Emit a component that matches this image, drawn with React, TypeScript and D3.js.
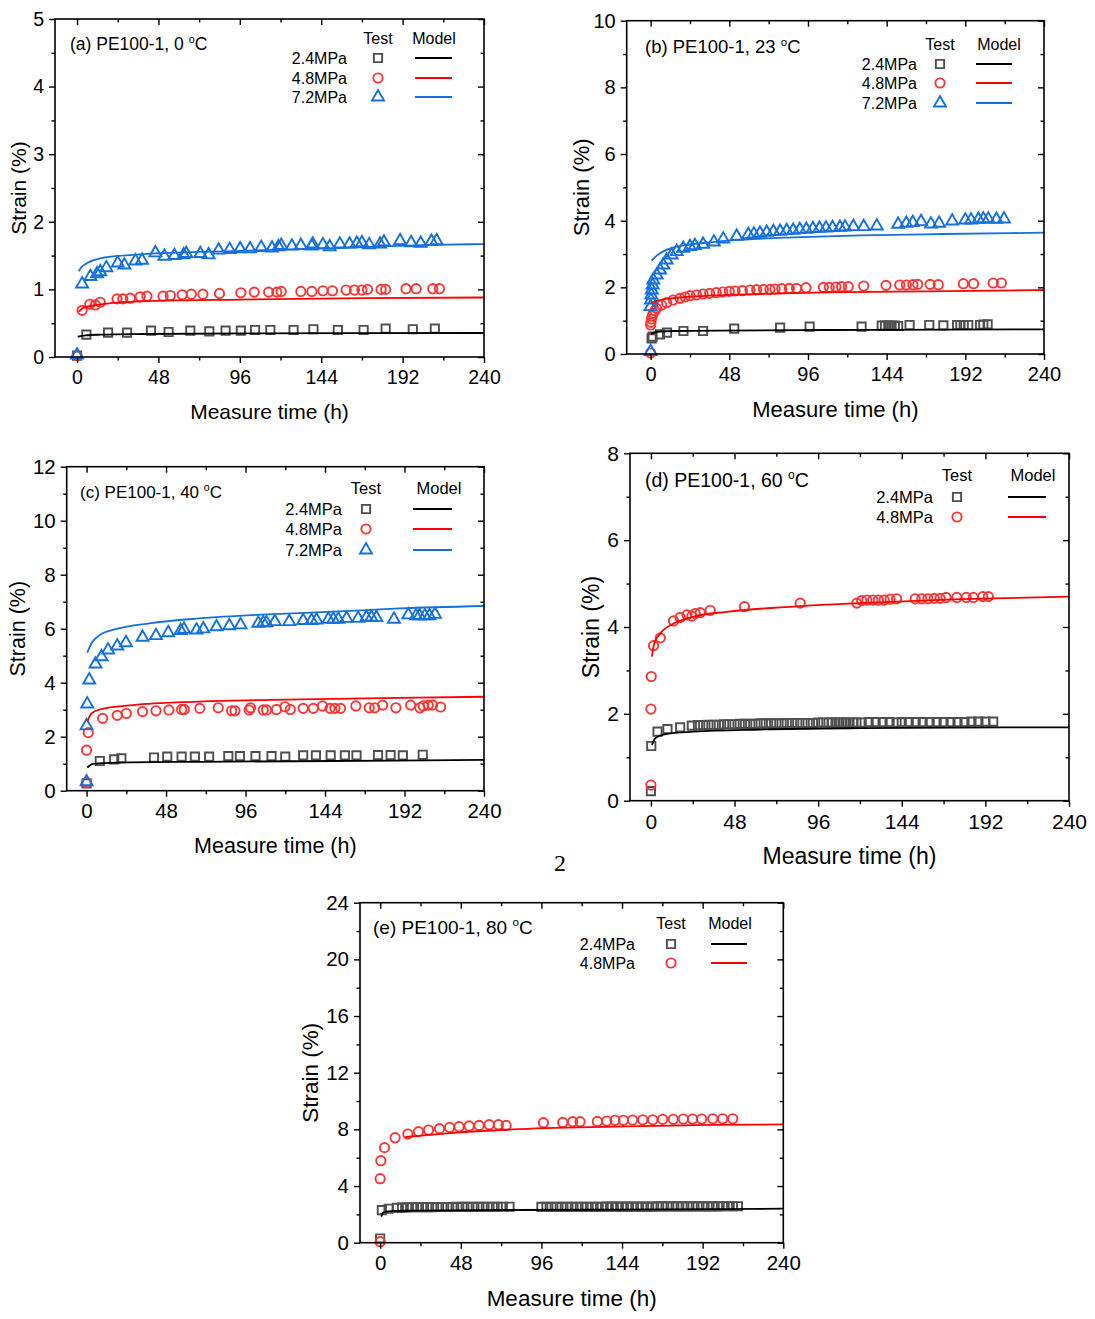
import { useEffect, useRef } from "react";
import * as d3 from "d3";

type Pt = [number, number];

// ---------- tick labels ----------
const xTicks = [0, 48, 96, 144, 192, 240];
const xMinor = [24, 72, 120, 168, 216];
const aYTicks = [0, 1, 2, 3, 4, 5];
const aYMinor = [0.5, 1.5, 2.5, 3.5, 4.5];
const bYTicks = [0, 2, 4, 6, 8, 10];
const bYMinor = [1, 3, 5, 7, 9];
const cYTicks = [0, 2, 4, 6, 8, 10, 12];
const cYMinor = [1, 3, 5, 7, 9, 11];
const dYTicks = [0, 2, 4, 6, 8];
const dYMinor = [1, 3, 5, 7];
const eYTicks = [0, 4, 8, 12, 16, 20, 24];
const eYMinor = [2, 6, 10, 14, 18, 22];

const stressLabels = ["2.4MPa", "4.8MPa", "7.2MPa"];

// ---------- (a) 0 °C ----------
const a24: Pt[] = [[0,0.02],[5.5,0.33],[18.3,0.36],[29.5,0.36],[43.6,0.39],[54,0.37],[66.8,0.39],[78,0.38],[87.6,0.39],[96.6,0.39],[105,0.4],[114,0.4],[127.7,0.4],[139.4,0.41],[153.8,0.4],[169,0.4],[182,0.42],[198,0.41],[211,0.42]];
const a48: Pt[] = [[0,0.02],[3,0.69],[7.5,0.78],[10.8,0.77],[13.7,0.81],[23.6,0.86],[27,0.86],[31.4,0.87],[37.3,0.89],[41.2,0.9],[50.7,0.9],[55,0.91],[62,0.92],[67.4,0.93],[74.2,0.93],[84,0.94],[96.6,0.95],[104.5,0.96],[113,0.96],[117.8,0.96],[120.4,0.97],[132,0.97],[138.5,0.97],[145,0.98],[150.6,0.98],[158.7,0.99],[163.6,0.99],[168,0.99],[171.3,1.0],[179.3,1.0],[182,1.0],[194,1.01],[200,1.01],[209.8,1.01],[213.7,1.01]];
const a72: Pt[] = [[0,0.03],[3,1.08],[7.9,1.19],[11.8,1.23],[13.7,1.26],[17.3,1.32],[24,1.39],[27.9,1.36],[34.4,1.42],[38.3,1.43],[46.2,1.54],[51.5,1.49],[57.4,1.5],[62.9,1.51],[64.4,1.53],[72.7,1.53],[77.6,1.51],[83.5,1.58],[90,1.59],[96.2,1.6],[102,1.6],[108.6,1.62],[115,1.61],[118.8,1.63],[120.4,1.65],[126.7,1.64],[132,1.65],[138.5,1.64],[139,1.67],[145,1.66],[149,1.63],[155,1.67],[160.7,1.67],[165,1.68],[168,1.69],[172.3,1.66],[178.7,1.67],[181,1.7],[190.5,1.72],[197,1.69],[202.7,1.68],[209,1.71],[212,1.72]];
const aM24: Pt[] = [[0.4,0.3],[5,0.32],[14,0.33],[40,0.34],[100,0.35],[240,0.355]];
const aM48: Pt[] = [[1,0.67],[4,0.73],[11.8,0.77],[33,0.82],[96,0.85],[170,0.87],[240,0.88]];
const aM72: Pt[] = [[1,1.27],[3,1.34],[6,1.39],[13.7,1.46],[33,1.51],[96,1.57],[151,1.61],[210,1.66],[240,1.67]];

// ---------- (b) 23 °C ----------
const b24: Pt[] = [[0.6,0.47],[1.2,0.52],[5.7,0.59],[10,0.64],[20,0.69],[32,0.69],[51,0.76],[79,0.79],[97,0.82],[128.7,0.82],[141,0.85],[143,0.85],[145,0.85],[147,0.85],[149,0.85],[151,0.84],[158,0.87],[170,0.87],[178.6,0.86],[187,0.87],[189,0.87],[191,0.87],[193.8,0.87],[201,0.87],[203,0.88],[205.6,0.89]];
const b48: Pt[] = [[0,0.03],[0,0.87],[0.2,0.95],[0.5,1.05],[1,1.14],[1.6,1.22],[2.6,1.3],[3.7,1.37],[6.7,1.47],[9.8,1.54],[13.8,1.62],[17.9,1.67],[21,1.71],[24,1.75],[28,1.77],[32,1.8],[36,1.82],[40,1.84],[44,1.86],[48,1.88],[51.5,1.89],[56,1.9],[60.6,1.92],[64.7,1.93],[68.8,1.94],[72.8,1.94],[75.9,1.95],[80,1.96],[84.6,1.97],[89,1.97],[94.8,1.99],[105.4,2.0],[109,2.0],[113,2.01],[116.5,2.02],[120.6,2.02],[130,2.04],[143.6,2.06],[152,2.07],[156,2.07],[160,2.08],[163,2.09],[170.5,2.09],[175.5,2.08],[190.8,2.11],[197,2.11],[209,2.13],[214,2.13]];
const b72: Pt[] = [[0,0.07],[0,1.42],[0.2,1.62],[0.4,1.77],[0.7,1.92],[1.2,2.07],[1.6,2.22],[3.7,2.37],[5.7,2.52],[7.7,2.67],[9.8,2.82],[12.8,2.97],[15.9,3.07],[19.9,3.17],[24,3.22],[27,3.25],[32,3.29],[38.6,3.36],[44.3,3.45],[52.5,3.53],[59.6,3.58],[63,3.6],[66.7,3.62],[70.8,3.65],[74.9,3.67],[79,3.68],[83,3.7],[87,3.71],[91,3.73],[95,3.74],[99,3.76],[103,3.77],[107,3.78],[111,3.79],[115.5,3.8],[118.6,3.81],[123.7,3.82],[130,3.82],[138,3.84],[151,3.89],[156,3.92],[160,3.94],[165,3.97],[171,3.9],[176,3.92],[184,3.99],[192,4.02],[195.5,4.02],[200,4.04],[203,4.05],[206,4.05],[211,4.04],[215.6,4.05]];
const bM24: Pt[] = [[0.3,0.6],[2,0.64],[5.7,0.67],[15,0.69],[40,0.7],[107,0.72],[180,0.73],[240,0.74]];
const bM48: Pt[] = [[0.6,1.52],[3,1.58],[5.7,1.62],[16,1.69],[36,1.75],[67,1.8],[107,1.85],[168,1.88],[240,1.92]];
const bM72: Pt[] = [[0.6,2.8],[3.7,2.95],[7.7,3.08],[14,3.2],[20,3.26],[32,3.33],[56,3.43],[87,3.5],[128,3.56],[178.6,3.6],[240,3.64]];

// ---------- (c) 40 °C ----------
const c24: Pt[] = [[0,0.27],[8,1.1],[16.7,1.16],[21,1.2],[40.7,1.23],[48.7,1.26],[57.4,1.26],[65.4,1.26],[74,1.26],[85.6,1.28],[92.6,1.28],[102,1.28],[111.7,1.28],[120,1.26],[130.8,1.31],[138.5,1.31],[147.4,1.31],[156,1.31],[163,1.31],[176,1.32],[183.6,1.32],[191,1.31],[203,1.33]];
const c48: Pt[] = [[0,0.3],[0,1.5],[1,2.15],[9.7,2.68],[18.5,2.79],[24,2.86],[33.8,2.93],[41.9,2.96],[49.7,2.99],[57.4,3.01],[59,3.01],[68.4,3.05],[79.5,3.07],[87.6,2.96],[89.6,2.96],[98.2,2.99],[99,3.07],[106.7,2.99],[108.7,2.99],[114.7,3.01],[119.8,3.11],[123,3.01],[130.8,3.05],[136.9,3.05],[142.5,3.14],[147,3.05],[150,3.05],[153.4,3.05],[162.6,3.14],[170.7,3.07],[174,3.07],[178.8,3.17],[186.8,3.07],[195.7,3.17],[201.3,3.07],[203.3,3.14],[206.3,3.17],[209,3.17],[213.8,3.1]];
const c72: Pt[] = [[0,0.33],[0,2.4],[0.4,3.21],[1.6,4.1],[5.4,4.69],[9,4.96],[13,5.21],[18.5,5.36],[23.8,5.48],[33.8,5.68],[41.9,5.74],[49.3,5.85],[56.8,5.93],[58.8,5.98],[66.4,5.95],[70.5,5.99],[78.5,6.07],[86.2,6.11],[93,6.14],[103.7,6.2],[106.7,6.22],[108.7,6.22],[113.7,6.26],[122.4,6.26],[130.8,6.3],[135.9,6.3],[138.9,6.32],[146,6.35],[149,6.35],[152,6.35],[157,6.38],[164,6.38],[169,6.42],[172,6.42],[175,6.41],[185.6,6.35],[194.3,6.51],[198.9,6.48],[201,6.48],[204.3,6.48],[207,6.48],[210.4,6.53]];
const cM24: Pt[] = [[0.4,0.86],[4,0.99],[18,1.04],[68,1.07],[149,1.1],[240,1.14]];
const cM48: Pt[] = [[0.4,2.56],[3,2.86],[8,3.01],[28,3.17],[68,3.3],[129,3.38],[189,3.44],[240,3.48]];
const cM72: Pt[] = [[0.4,5.11],[3,5.46],[8,5.77],[18,5.99],[38,6.2],[68,6.38],[109,6.53],[149,6.63],[189,6.75],[240,6.84]];

// ---------- (d) 60 °C ----------
const d24: Pt[] = [[0,0.22],[0.2,1.26],[3.8,1.59],[9.5,1.65],[16.8,1.69],[23.5,1.73],[27,1.74],[30,1.74],[33,1.75],[36,1.75],[39,1.75],[42,1.76],[45,1.76],[48,1.76],[51,1.77],[54,1.77],[57,1.77],[60,1.77],[63,1.78],[66,1.78],[69,1.78],[72,1.78],[75,1.78],[78,1.79],[81,1.79],[84,1.79],[87,1.79],[90,1.79],[93,1.79],[96,1.8],[99,1.8],[102,1.8],[104,1.8],[106,1.8],[108,1.8],[110,1.8],[112,1.8],[114,1.8],[116,1.8],[118,1.8],[121,1.8],[125,1.81],[129,1.81],[133,1.81],[137,1.81],[141,1.8],[144,1.81],[148,1.81],[152,1.81],[156,1.81],[160,1.81],[164,1.81],[168,1.81],[172,1.81],[176,1.81],[180,1.81],[184,1.82],[188,1.82],[192,1.82],[196.5,1.82]];
const d48: Pt[] = [[0,0.36],[0,2.11],[0.2,2.86],[1.5,3.57],[5.4,3.75],[13,4.14],[16.8,4.22],[20.7,4.28],[23.5,4.25],[25.4,4.31],[28.3,4.33],[34,4.38],[53.7,4.47],[85.7,4.55],[118.2,4.55],[121,4.61],[124,4.62],[127.4,4.62],[130.6,4.62],[133.9,4.62],[137.3,4.64],[141,4.65],[151.7,4.65],[155.5,4.65],[159,4.65],[162.6,4.66],[166,4.66],[169.4,4.68],[175.6,4.68],[181,4.68],[185.1,4.68],[190.5,4.7],[193.7,4.7]];
const dM24: Pt[] = [[0.6,1.28],[2.5,1.44],[9.2,1.54],[24.5,1.59],[62.7,1.64],[120,1.67],[240,1.69]];
const dM48: Pt[] = [[0.6,3.32],[1.9,3.62],[5.4,3.85],[13,4.08],[24.5,4.24],[43.6,4.35],[81.8,4.47],[120,4.55],[177.5,4.64],[240,4.7]];

// ---------- (e) 80 °C ----------
const e24: Pt[] = [[0,0.3],[1,2.3],[5,2.4],[10,2.46],[13,2.48],[16,2.49],[19,2.5],[22,2.5],[25,2.51],[28,2.51],[31,2.51],[34,2.52],[37,2.52],[40,2.52],[43,2.52],[46,2.53],[49,2.53],[52,2.53],[55,2.53],[58,2.53],[61,2.54],[64,2.54],[67,2.54],[70,2.54],[73,2.54],[77,2.54],[96,2.53],[99,2.53],[102,2.53],[105,2.53],[108,2.53],[111,2.54],[114,2.54],[117,2.54],[120,2.54],[123,2.54],[126,2.54],[129,2.54],[132,2.54],[135,2.55],[138,2.55],[141,2.55],[144,2.55],[147,2.55],[150,2.55],[153,2.55],[156,2.55],[159,2.55],[162,2.55],[165,2.56],[168,2.56],[171,2.56],[174,2.56],[177,2.56],[180,2.56],[183,2.56],[186,2.56],[189,2.56],[192,2.56],[195,2.56],[198,2.56],[201,2.56],[204,2.57],[207,2.57],[210,2.57],[213,2.57]];
const e48: Pt[] = [[0,0.07],[0,4.52],[0.4,5.79],[2.6,6.71],[8.9,7.41],[16.5,7.67],[22.8,7.84],[28.8,7.95],[35.3,8.05],[41.3,8.14],[47,8.19],[53,8.24],[58.9,8.28],[64.9,8.33],[70.4,8.33],[75,8.28],[97.2,8.47],[108.7,8.49],[114.6,8.54],[119,8.54],[129.3,8.56],[134.9,8.59],[139.8,8.64],[144.8,8.64],[150.3,8.66],[156.3,8.68],[162.3,8.68],[168.2,8.71],[174.5,8.71],[180.5,8.73],[186,8.73],[191.4,8.73],[198,8.75],[203.9,8.75],[209.9,8.75]];
const eM24: Pt[] = [[0.6,1.84],[2,2.14],[7.9,2.24],[19.8,2.26],[79,2.31],[139,2.33],[240,2.4]];
const eM48: Pt[] = [[15,7.46],[39.7,7.72],[79,8.0],[139,8.19],[198,8.31],[240,8.35]];

const COLORS = { square: "#4f4f4f", circle: "#ff3434", triangle: "#1670dc" };
const LINE_COLORS = { square: "#000000", circle: "#ff0000", triangle: "#1670dc" };
const SYMBOLS = { square: d3.symbolSquare, circle: d3.symbolCircle, triangle: d3.symbolTriangle };
const SIZES = { square: 68, circle: 68, triangle: 62 };
const FONT = "'Liberation Sans', Arial, Helvetica, sans-serif";

type Kind = "square" | "circle" | "triangle";
interface Series { kind: Kind; test: Pt[]; model: Pt[] }
interface Panel {
  tag: string;
  temp: string;
  box: [number, number, number, number];
  xMin: number;
  yMax: number;
  yTicks: number[];
  yMinor: number[];
  series: Series[];
  fs: { tick: number; axis: number; title: number; legend: number };
  yTitleOff: number;
  titlePos: [number, number];
  legend: { labelRight: number; markerX: number; lineX1: number; lineX2: number; modelX: number; headerY: number; rowY: number[] };
}

const panels: Panel[] = [
  {
    tag: "(a)", temp: "0", box: [55, 19, 484, 357], xMin: -13, yMax: 5, yTicks: aYTicks, yMinor: aYMinor,
    series: [{ kind: "square", test: a24, model: aM24 }, { kind: "circle", test: a48, model: aM48 }, { kind: "triangle", test: a72, model: aM72 }],
    fs: { tick: 19.5, axis: 21, title: 17.5, legend: 16 }, yTitleOff: 36, titlePos: [70, 44],
    legend: { labelRight: 347, markerX: 378, lineX1: 415, lineX2: 452, modelX: 434, headerY: 38, rowY: [58, 78, 97] },
  },
  {
    tag: "(b)", temp: "23", box: [626.7, 20.7, 1044, 354], xMin: -14.6, yMax: 10, yTicks: bYTicks, yMinor: bYMinor,
    series: [{ kind: "square", test: b24, model: bM24 }, { kind: "circle", test: b48, model: bM48 }, { kind: "triangle", test: b72, model: bM72 }],
    fs: { tick: 20, axis: 22, title: 18.5, legend: 16 }, yTitleOff: 45, titlePos: [645, 47],
    legend: { labelRight: 917, markerX: 940, lineX1: 976, lineX2: 1012, modelX: 999, headerY: 44, rowY: [64, 83, 103] },
  },
  {
    tag: "(c)", temp: "40", box: [66.7, 466.7, 484, 790.7], xMin: -12, yMax: 12, yTicks: cYTicks, yMinor: cYMinor,
    series: [{ kind: "square", test: c24, model: cM24 }, { kind: "circle", test: c48, model: cM48 }, { kind: "triangle", test: c72, model: cM72 }],
    fs: { tick: 20.5, axis: 21.5, title: 17, legend: 16.5 }, yTitleOff: 49, titlePos: [80, 492],
    legend: { labelRight: 342, markerX: 366, lineX1: 413, lineX2: 452, modelX: 439, headerY: 488, rowY: [509, 529, 550] },
  },
  {
    tag: "(d)", temp: "60", box: [630, 453.3, 1069, 800.7], xMin: -12, yMax: 8, yTicks: dYTicks, yMinor: dYMinor,
    series: [{ kind: "square", test: d24, model: dM24 }, { kind: "circle", test: d48, model: dM48 }],
    fs: { tick: 21, axis: 23, title: 19.5, legend: 16.5 }, yTitleOff: 39, titlePos: [645, 480],
    legend: { labelRight: 933, markerX: 957, lineX1: 1008, lineX2: 1046, modelX: 1033, headerY: 475, rowY: [497, 517] },
  },
  {
    tag: "(e)", temp: "80", box: [360, 902.7, 783.3, 1242.7], xMin: -12, yMax: 24, yTicks: eYTicks, yMinor: eYMinor,
    series: [{ kind: "square", test: e24, model: eM24 }, { kind: "circle", test: e48, model: eM48 }],
    fs: { tick: 20.5, axis: 22.5, title: 19, legend: 16 }, yTitleOff: 50, titlePos: [373, 927],
    legend: { labelRight: 635, markerX: 671, lineX1: 711, lineX2: 747, modelX: 730, headerY: 923, rowY: [944, 963] },
  },
];

function drawPanel(svg: d3.Selection<SVGSVGElement, unknown, null, undefined>, p: Panel) {
  const [L, T, R, B] = p.box;
  const x = d3.scaleLinear().domain([p.xMin, 240]).range([L, R]);
  const y = d3.scaleLinear().domain([0, p.yMax]).range([B, T]);
  const g = svg.append("g");

  // test markers
  p.series.forEach((s) => {
    const sym = d3.symbol().type(SYMBOLS[s.kind]).size(SIZES[s.kind]);
    g.append("g")
      .selectAll("path")
      .data(s.test)
      .join("path")
      .attr("transform", (d) => `translate(${x(d[0])},${y(d[1])})`)
      .attr("d", sym)
      .attr("fill", "none")
      .attr("stroke", COLORS[s.kind])
      .attr("stroke-width", 1.9);
  });

  // model curves
  const line = d3.line<Pt>().x((d) => x(d[0])).y((d) => y(d[1])).curve(d3.curveMonotoneX);
  p.series.forEach((s) => {
    g.append("path")
      .datum(s.model)
      .attr("d", line)
      .attr("fill", "none")
      .attr("stroke", LINE_COLORS[s.kind])
      .attr("stroke-width", 1.8);
  });

  const styleAxis = (sel: d3.Selection<SVGGElement, unknown, null, undefined>) => {
    sel.select(".domain").remove();
    sel.selectAll("line").attr("stroke", "#000").attr("stroke-width", 1.4);
    sel.selectAll("text").style("font-family", FONT).style("font-size", `${p.fs.tick}px`).attr("fill", "#000");
  };

  // bottom (outward)
  g.append("g").attr("transform", `translate(0,${B})`)
    .call(d3.axisBottom(x).tickValues(xTicks).tickSize(6).tickPadding(7).tickFormat(d3.format("d")))
    .call(styleAxis);
  g.append("g").attr("transform", `translate(0,${B})`)
    .call(d3.axisBottom(x).tickValues(xMinor).tickSize(3.5).tickFormat(() => ""))
    .call(styleAxis);
  // top (inward)
  g.append("g").attr("transform", `translate(0,${T})`)
    .call(d3.axisTop(x).tickValues(xTicks).tickSize(-6).tickFormat(() => ""))
    .call(styleAxis);
  g.append("g").attr("transform", `translate(0,${T})`)
    .call(d3.axisTop(x).tickValues(xMinor).tickSize(-3.5).tickFormat(() => ""))
    .call(styleAxis);
  // left (outward)
  g.append("g").attr("transform", `translate(${L},0)`)
    .call(d3.axisLeft(y).tickValues(p.yTicks).tickSize(6).tickPadding(5).tickFormat(d3.format("d")))
    .call(styleAxis);
  g.append("g").attr("transform", `translate(${L},0)`)
    .call(d3.axisLeft(y).tickValues(p.yMinor).tickSize(3.5).tickFormat(() => ""))
    .call(styleAxis);
  // right (inward)
  g.append("g").attr("transform", `translate(${R},0)`)
    .call(d3.axisRight(y).tickValues(p.yTicks).tickSize(-6).tickFormat(() => ""))
    .call(styleAxis);
  g.append("g").attr("transform", `translate(${R},0)`)
    .call(d3.axisRight(y).tickValues(p.yMinor).tickSize(-3.5).tickFormat(() => ""))
    .call(styleAxis);

  // frame
  g.append("rect")
    .attr("x", L).attr("y", T).attr("width", R - L).attr("height", B - T)
    .attr("fill", "none").attr("stroke", "#000").attr("stroke-width", 1.6);

  // axis titles
  g.append("text")
    .attr("x", (L + R) / 2).attr("y", B + 55).attr("dy", "0.35em")
    .attr("text-anchor", "middle")
    .style("font-family", FONT).style("font-size", `${p.fs.axis}px`)
    .text("Measure time (h)");
  g.append("text")
    .attr("transform", `translate(${L - p.yTitleOff},${(T + B) / 2}) rotate(-90)`)
    .attr("dy", "0.35em")
    .attr("text-anchor", "middle")
    .style("font-family", FONT).style("font-size", `${p.fs.axis}px`)
    .text("Strain (%)");

  // panel title with superscript degree
  const shift = p.fs.title * 0.42;
  const title = g.append("text")
    .attr("x", p.titlePos[0]).attr("y", p.titlePos[1] + p.fs.title * 0.35)
    .style("font-family", FONT).style("font-size", `${p.fs.title}px`);
  title.append("tspan").text(`${p.tag} PE100-1, ${p.temp} `);
  title.append("tspan").attr("dy", -shift).style("font-size", `${p.fs.title * 0.62}px`).text("o");
  title.append("tspan").attr("dy", shift).text("C");

  // legend
  const lg = p.legend;
  const lf = (sel: d3.Selection<SVGTextElement, unknown, null, undefined>) =>
    sel.style("font-family", FONT).style("font-size", `${p.fs.legend}px`).attr("dy", "0.35em");
  g.append("text").attr("x", lg.markerX).attr("y", lg.headerY).attr("text-anchor", "middle").call(lf).text("Test");
  g.append("text").attr("x", lg.modelX).attr("y", lg.headerY).attr("text-anchor", "middle").call(lf).text("Model");
  p.series.forEach((s, i) => {
    const ry = lg.rowY[i];
    g.append("text").attr("x", lg.labelRight).attr("y", ry).attr("text-anchor", "end").call(lf).text(stressLabels[i]);
    g.append("path")
      .attr("transform", `translate(${lg.markerX},${ry})`)
      .attr("d", d3.symbol().type(SYMBOLS[s.kind]).size(SIZES[s.kind])())
      .attr("fill", "none").attr("stroke", COLORS[s.kind]).attr("stroke-width", 1.9);
    g.append("line")
      .attr("x1", lg.lineX1).attr("x2", lg.lineX2).attr("y1", ry).attr("y2", ry)
      .attr("stroke", LINE_COLORS[s.kind]).attr("stroke-width", 1.8);
  });
}

export default function App() {
  const svgRef = useRef<SVGSVGElement>(null);

  useEffect(() => {
    document.body.style.margin = "0";
    if (!svgRef.current) return;
    const svg = d3.select(svgRef.current);
    svg.selectAll("*").remove();
    svg.append("rect").attr("width", 1095).attr("height", 1319).attr("fill", "#fff");
    panels.forEach((p) => drawPanel(svg, p));
    // stray page number between panels
    svg.append("text")
      .attr("x", 560).attr("y", 871)
      .attr("text-anchor", "middle")
      .style("font-family", "'Liberation Serif', 'Times New Roman', serif")
      .style("font-size", "24px")
      .text("2");
  }, []);

  return <svg ref={svgRef} width={1095} height={1319} style={{ display: "block" }} />;
}
